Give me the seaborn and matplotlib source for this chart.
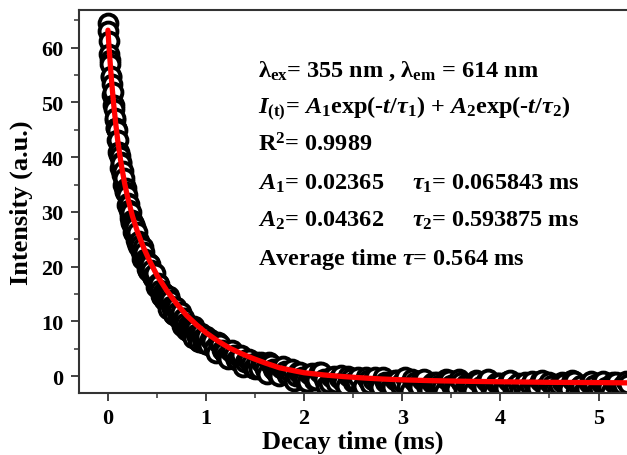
import matplotlib
matplotlib.use('Agg')
import matplotlib.pyplot as plt
from matplotlib.ticker import MultipleLocator
import pandas as pd
import seaborn as sns

# Datos (tiempo en ms, intensidad en u.a.)

t_early = [0.000, 0.005, 0.010, 0.015, 0.020, 0.025, 0.030, 0.035, 0.040, 0.045,
           0.050, 0.055, 0.060, 0.065, 0.070, 0.075, 0.080, 0.085, 0.090, 0.095]
i_early = [64.6, 63.1, 61.3, 58.9, 57.7, 57.1, 54.6, 54.9, 53.4, 51.4,
           51.9, 49.5, 49.6, 48.8, 46.7, 47.2, 45.4, 45.4, 44.9, 43.1]

t_fast = [0.10, 0.11, 0.12, 0.13, 0.14, 0.15, 0.16, 0.17, 0.18, 0.19, 0.20,
          0.21, 0.22, 0.23, 0.24, 0.25, 0.26, 0.27, 0.28, 0.29, 0.30]
i_fast = [43.1, 40.4, 40.2, 39.2, 37.1, 37.5, 35.4, 33.8, 34.3, 33.1, 31.0,
          31.5, 29.7, 29.9, 27.9, 28.2, 27.8, 26.2, 27.2, 25.5, 24.3]

t_fast2 = [0.105, 0.115, 0.125, 0.135, 0.145, 0.155, 0.165, 0.175, 0.185, 0.195,
           0.205, 0.215, 0.225, 0.235, 0.245, 0.255, 0.265, 0.275, 0.285, 0.295]
i_fast2 = [41.0, 40.9, 38.0, 38.9, 36.8, 35.0, 36.1, 33.7, 33.6, 31.3,
           31.6, 30.3, 28.9, 28.1, 28.6, 26.3, 27.8, 26.2, 24.9, 26.4]

t_mid = [0.32, 0.34, 0.36, 0.38, 0.40, 0.42, 0.44, 0.46, 0.48, 0.50, 0.52, 0.54,
         0.56, 0.58, 0.60, 0.62, 0.64, 0.66, 0.68, 0.70, 0.72, 0.74, 0.76, 0.78,
         0.80, 0.82, 0.84, 0.86, 0.88, 0.90, 0.92, 0.94, 0.96, 0.98, 1.00]
i_mid = [24.7, 22.6, 23.5, 21.3, 19.6, 20.6, 19.3, 18.0, 18.9, 16.4, 16.9, 14.6,
         15.3, 15.0, 13.3, 14.6, 12.8, 11.4, 12.6, 11.7, 10.5, 11.7, 9.9, 10.6,
         8.5, 9.4, 9.3, 7.7, 9.2, 7.6, 6.4, 7.8, 7.0, 6.0, 7.3]

t_mid2 = [0.31, 0.33, 0.35, 0.37, 0.39, 0.41, 0.43, 0.45, 0.47, 0.49, 0.51, 0.53,
          0.55, 0.57, 0.59, 0.61, 0.63, 0.65, 0.67, 0.69, 0.71, 0.73, 0.75, 0.77,
          0.79, 0.81, 0.83, 0.85, 0.87, 0.89, 0.91, 0.93, 0.95, 0.97, 0.99]
i_mid2 = [23.8, 24.0, 21.4, 22.6, 20.8, 19.2, 20.5, 18.3, 18.4, 16.3, 17.0, 15.8,
          14.5, 13.9, 14.5, 12.3, 13.9, 12.4, 11.2, 12.7, 10.7, 11.1, 9.2, 10.6,
          9.6, 8.5, 8.1, 8.9, 6.9, 8.6, 7.3, 6.2, 7.9, 6.1, 6.6]

t_slow = [1.04, 1.08, 1.12, 1.16, 1.20, 1.24, 1.28, 1.32, 1.36, 1.40, 1.44, 1.48,
          1.52, 1.56, 1.60, 1.64, 1.68, 1.72, 1.76, 1.80, 1.84, 1.88, 1.92, 1.96, 2.00]
i_slow = [6.7, 5.2, 6.3, 4.7, 3.6, 4.6, 3.8, 2.9, 3.9, 2.5, 3.1, 1.4,
          2.5, 2.5, 1.2, 2.5, 1.2, 0.3, 1.5, 0.9, 0.1, 1.2, 0.0, 0.7, -0.8]

t_slow2 = [1.02, 1.06, 1.10, 1.14, 1.18, 1.22, 1.26, 1.30, 1.34, 1.38, 1.42, 1.46,
           1.50, 1.54, 1.58, 1.62, 1.66, 1.70, 1.74, 1.78, 1.82, 1.86, 1.90, 1.94, 1.98]
i_slow2 = [5.7, 6.4, 4.2, 5.8, 4.4, 3.2, 4.8, 3.0, 3.4, 1.6, 3.1, 2.2,
           1.3, 1.3, 2.2, 0.3, 2.2, 1.0, 0.0, 1.8, 0.1, 0.7, -1.0, 0.7, -0.1]

t_tail = [2.05, 2.10, 2.15, 2.20, 2.25, 2.30, 2.35, 2.40, 2.45, 2.50, 2.55, 2.60,
          2.65, 2.70, 2.75, 2.80, 2.85, 2.90, 2.95, 3.00, 3.05, 3.10, 3.15, 3.20,
          3.25, 3.30, 3.35, 3.40, 3.45, 3.50, 3.55, 3.60, 3.65, 3.70, 3.75, 3.80,
          3.85, 3.90, 3.95, 4.00, 4.05, 4.10, 4.15, 4.20, 4.25, 4.30, 4.35, 4.40,
          4.45, 4.50, 4.55, 4.60, 4.65, 4.70, 4.75, 4.80, 4.85, 4.90, 4.95, 5.00,
          5.05, 5.10, 5.15, 5.20, 5.25, 5.30]
i_tail = [0.35, -0.75, 0.65, -0.55, -1.35, 0.05, -0.45, -1.15, 0.05, -1.05, -0.25, -1.75,
          -0.75, -0.65, -1.65, -0.15, -1.35, -2.05, -0.75, -1.15, -1.75, -0.55, -1.65, -0.75,
          -2.15, -1.25, -1.05, -2.05, -0.55, -1.65, -2.35, -1.05, -1.45, -2.05, -0.75, -1.85,
          -0.95, -2.35, -1.35, -1.25, -2.25, -0.75, -1.85, -2.55, -1.15, -1.55, -2.15, -0.85,
          -1.95, -1.15, -2.55, -1.55, -1.35, -2.35, -0.85, -1.95, -2.65, -1.25, -1.65, -2.25,
          -0.95, -2.05, -1.15, -2.55, -1.65, -1.45]

t_tail2 = [2.025, 2.075, 2.125, 2.175, 2.225, 2.275, 2.325, 2.375, 2.425, 2.475, 2.525,
           2.575, 2.625, 2.675, 2.725, 2.775, 2.825, 2.875, 2.925, 2.975, 3.025, 3.075,
           3.125, 3.175, 3.225, 3.275, 3.325, 3.375, 3.425, 3.475, 3.525, 3.575, 3.625,
           3.675, 3.725, 3.775, 3.825, 3.875, 3.925, 3.975, 4.025, 4.075, 4.125, 4.175,
           4.225, 4.275, 4.325, 4.375, 4.425, 4.475, 4.525, 4.575, 4.625, 4.675, 4.725,
           4.775, 4.825, 4.875, 4.925, 4.975, 5.025, 5.075, 5.125, 5.175, 5.225, 5.275]
i_tail2 = [-1.15, 0.55, -0.65, 0.75, -1.85, -0.25, -1.25, 0.15, -1.85, -0.35,
           -1.05, -2.45, -0.25, -1.45, -0.15, -2.05, -1.05, -2.25, -0.65, -1.65,
           -0.25, -2.75, -1.15, -2.05, -0.55, -2.55, -1.05, -1.65, -3.0, -0.75,
           -1.95, -0.55, -2.55, -1.45, -2.65, -0.95, -1.95, -0.55, -3.0, -1.35,
           -2.35, -0.85, -2.85, -1.25, -1.85, -2.95, -0.95, -2.15, -0.75, -2.65,
           -1.65, -2.85, -1.15, -2.15, -0.75, -2.95, -1.55, -2.45, -0.95, -2.95,
           -1.35, -1.95, -2.95, -1.05, -2.25, -0.85]

# Curva de ajuste (linea roja)
fit_t = [0.0, 0.01, 0.02, 0.03, 0.04, 0.05, 0.06, 0.08, 0.10, 0.12, 0.14, 0.17,
         0.20, 0.25, 0.30, 0.36, 0.42, 0.50, 0.60, 0.70, 0.80, 0.90, 1.00, 1.12,
         1.24, 1.36, 1.48, 1.60, 1.75, 1.90, 2.00, 2.2, 2.4, 2.6, 2.8, 3.0, 3.3,
         3.6, 4.0, 4.5, 5.0, 5.3]
fit_i = [63.2, 60.4, 57.9, 55.5, 53.3, 51.3, 49.4, 46.0, 43.0, 40.5, 38.2, 35.2,
         32.7, 29.2, 26.4, 23.6, 21.2, 18.4, 15.6, 13.2, 11.1, 9.4, 7.9, 6.4,
         5.1, 4.1, 3.2, 2.4, 1.5, 0.95, 0.6, 0.2, -0.1, -0.35, -0.55, -0.7, -0.85,
         -0.95, -1.05, -1.15, -1.2, -1.25]

df = pd.DataFrame({
    'tiempo': t_early + t_fast + t_fast2 + t_mid + t_mid2 + t_slow + t_slow2 + t_tail + t_tail2,
    'intensidad': i_early + i_fast + i_fast2 + i_mid + i_mid2 + i_slow + i_slow2 + i_tail + i_tail2,
}).sort_values('tiempo')

sns.set_theme(style='ticks')
plt.rcParams['font.family'] = ['Liberation Serif', 'DejaVu Serif']
plt.rcParams['font.weight'] = 'bold'
plt.rcParams['text.color'] = 'black'
plt.rcParams['axes.labelcolor'] = 'black'
plt.rcParams['mathtext.fontset'] = 'custom'
plt.rcParams['mathtext.rm'] = 'Liberation Serif:bold'
plt.rcParams['mathtext.it'] = 'Liberation Serif:bold:italic'
plt.rcParams['mathtext.bf'] = 'Liberation Serif:bold'

fig = plt.figure(figsize=(6.27, 4.56), dpi=100)
ax = fig.add_axes([0.126, 0.136, 0.874, 0.840])

sns.scatterplot(data=df, x='tiempo', y='intensidad', ax=ax, marker='o', s=165,
                color='white', edgecolor='black', linewidth=2.8, zorder=2)
sns.lineplot(x=fit_t, y=fit_i, ax=ax, color='red', linewidth=3.8, zorder=3)

ax.set_xlim(-0.295, 5.29)
ax.set_ylim(-3.1, 66.9)
ax.xaxis.set_major_locator(MultipleLocator(1))
ax.xaxis.set_minor_locator(MultipleLocator(0.5))
ax.yaxis.set_major_locator(MultipleLocator(10))
ax.yaxis.set_minor_locator(MultipleLocator(5))
ax.tick_params(which='major', direction='out', length=6, width=1.3,
               color='#333333', labelcolor='black', labelsize=16, pad=5)
ax.tick_params(which='minor', direction='out', length=3.5, width=1.1, color='#333333')
for lab in ax.get_xticklabels() + ax.get_yticklabels():
    lab.set_fontweight('bold')

ax.spines['right'].set_visible(False)
for lado in ['left', 'bottom', 'top']:
    ax.spines[lado].set_linewidth(1.5)
    ax.spines[lado].set_color('#333333')

ax.set_xlabel('Decay time (ms)', fontsize=19, fontweight='bold', labelpad=1)
ax.set_ylabel('Intensity (a.u.)', fontsize=19, fontweight='bold', labelpad=6)

# Texto de la ecuacion
fs = 17.5
tr = ax.transAxes
ax.text(0.327, 0.828, r'$\mathrm{\lambda}_{\mathrm{ex}}$= 355 nm , $\mathrm{\lambda}_{\mathrm{em}}$ = 614 nm',
        transform=tr, fontsize=fs, fontweight='bold', va='baseline')
ax.text(0.327, 0.731, r'$I_{\mathrm{(t)}}$= $A_1$exp(-$t$/$\tau_1$) + $A_2$exp(-$t$/$\tau_2$)',
        transform=tr, fontsize=fs, fontweight='bold', va='baseline')
ax.text(0.327, 0.632, r'R$^2$= 0.9989', transform=tr, fontsize=fs, fontweight='bold', va='baseline')
ax.text(0.327, 0.533, r'$A_1$= 0.02365', transform=tr, fontsize=fs, fontweight='bold', va='baseline')
ax.text(0.608, 0.533, r'$\tau_1$= 0.065843 ms', transform=tr, fontsize=fs, fontweight='bold', va='baseline')
ax.text(0.327, 0.436, r'$A_2$= 0.04362', transform=tr, fontsize=fs, fontweight='bold', va='baseline')
ax.text(0.608, 0.436, r'$\tau_2$= 0.593875 ms', transform=tr, fontsize=fs, fontweight='bold', va='baseline')
ax.text(0.327, 0.337, r'Average time $\tau$= 0.564 ms', transform=tr, fontsize=fs, fontweight='bold', va='baseline')

plt.savefig('out.png', dpi=100)
